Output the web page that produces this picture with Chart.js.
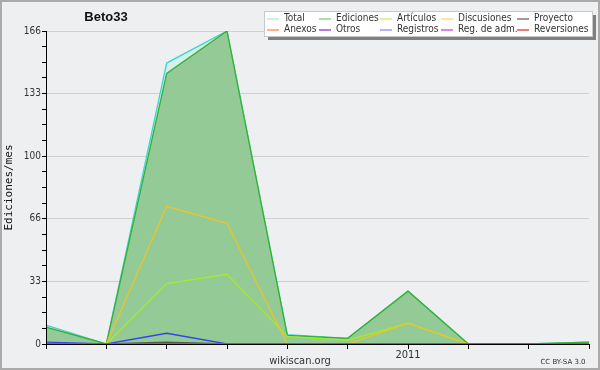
<!DOCTYPE html>
<html>
<head>
<meta charset="utf-8">
<script src="https://cdn.jsdelivr.net/npm/chart.js@4/dist/chart.umd.min.js"></script>
<style>
  html, body { margin: 0; padding: 0; background: #fff; }
  #wrap { width: 600px; height: 370px; }
</style>
</head>
<body>
<div id="wrap"><canvas id="myChart" width="600" height="370"></canvas></div>
<script>
const months = ["2010-07", "2010-08", "2010-09", "2010-10", "2010-11",
	"2010-12", "2011-01", "2011-02", "2011-03", "2011-04"];
const xTickLabels = ["", "", "", "", "", "", "2011", "", "", ""];

const total = [10, 0, 149, 166, 5, 3, 28, 0, 0, 1];
const ediciones = [9, 0, 143.5, 166, 4.5, 3, 28, 0, 0, 1];
const articulos = [0, 0, 32, 37, 4, 2, 11, 0, 0, 0];
const discusiones = [0, 0, 73, 64, 0, 0, 11, 0, 0, 0];
const proyecto = [0, 0, 1, 0, 0, 0, 0, 0, 0, 0];
const anexos = [0, 0, 0, 0, 0, 0, 0, 0, 0, 0];
const otros = [0, 0, 0, 0, 0, 0, 0, 0, 0, 0];
const registros = [1, 0, 5.7, 0, 0, 0, 0, 0, 0, 0];
const regAdm = [0, 0, 0, 0, 0, 0, 0, 0, 0, 0];
const reversiones = [0, 0, 0, 0, 0, 0, 0, 0, 0, 0];

const yTickValues = [];
for (let i = 0; i <= 20; i++) yTickValues.push(i * 8.3);
const yTickLabels = ["0", "33", "66", "100", "133", "166"];

const legendColors = ["#aee8e4", "#7ccc7c", "#ccee66", "#ffd966", "#666666",
	"#ff8844", "#9933cc", "#8888ff", "#cc44dd", "#ee3333"];

function line(label, data, color, order, extra) {
	return Object.assign({
		label: label,
		data: data,
		borderColor: color,
		borderWidth: 1.3,
		pointRadius: 0,
		tension: 0,
		fill: false,
		order: order,
	}, extra || {});
}

const data = {
	labels: months,
	datasets: [
		line("Total", total, "#3dd6cc", 20, { fill: "origin", backgroundColor: "#d4efec" }),
		line("Ediciones", ediciones, "#35b035", 19, { fill: "origin", backgroundColor: "#93ca96" }),
		line("Artículos", articulos, "#a8e82a", 8),
		line("Discusiones", discusiones, "#eec422", 7),
		line("Proyecto", proyecto, "#555555", 6),
		line("Anexos", anexos, "#ff7733", 5),
		line("Otros", otros, "#8833cc", 4),
		line("Registros", registros, "#3344ee", 3),
		line("Reg. de adm.", regAdm, "#cc44dd", 2),
		line("Reversiones", reversiones, "#ee3333", 1),
	],
};

// background, frame, title, legend, footer, axes on top
const decor = {
	id: "decor",
	beforeDraw(chart) {
		const c = chart.ctx;
		c.save();
		c.fillStyle = "#eeeff1";
		c.fillRect(0, 0, 600, 370);
		c.restore();
	},
	afterDatasetsDraw(chart) {
		const c = chart.ctx;
		const a = chart.chartArea;
		c.save();
		c.strokeStyle = "#000";
		c.lineWidth = 1;
		c.beginPath();
		c.moveTo(a.left + 0.5, a.top);
		c.lineTo(a.left + 0.5, a.bottom + 0.5);
		c.lineTo(a.right, a.bottom + 0.5);
		c.stroke();
		c.restore();
	},
	afterDraw(chart) {
		const c = chart.ctx;
		c.save();
		// frame
		c.strokeStyle = "#aaaaaa";
		c.lineWidth = 2;
		c.strokeRect(1, 1, 598, 368);

		// title
		c.fillStyle = "#111";
		c.font = "bold 13px 'Liberation Sans'";
		c.textAlign = "center";
		c.textBaseline = "middle";
		c.fillText("Beto33", 106, 17);

		// legend box with shadow
		c.fillStyle = "#808080";
		c.fillRect(268, 15, 328, 25);
		c.fillStyle = "#ffffff";
		c.fillRect(264, 11, 328, 25);
		c.strokeStyle = "#c8c8c8";
		c.lineWidth = 1;
		c.strokeRect(264.5, 11.5, 328, 25);

		const colX = [267, 319, 380, 441, 517];
		const rowY = [18.5, 29.5];
		c.font = "10px 'DejaVu Sans Condensed', 'Liberation Sans'";
		c.textAlign = "left";
		chart.data.datasets.forEach((ds, i) => {
			const col = i % 5;
			const row = Math.floor(i / 5);
			const x = colX[col];
			const y = rowY[row];
			c.strokeStyle = legendColors[i];
			c.lineWidth = 1.3;
			c.beginPath();
			c.moveTo(x, y + 0.5);
			c.lineTo(x + 12, y + 0.5);
			c.stroke();
			c.fillStyle = "#333";
			c.fillText(ds.label, x + 17, y);
		});

		// footer
		c.fillStyle = "#333";
		c.font = "11px 'DejaVu Sans Condensed', 'Liberation Sans'";
		c.textAlign = "center";
		c.fillText("wikiscan.org", 300, 361);
		c.font = "7px 'DejaVu Sans'";
		c.fillText("CC BY-SA 3.0", 563, 362);
		c.restore();
	},
};

const config = {
	type: "line",
	data,
	options: {
		responsive: false,
		animation: false,
		layout: { padding: { top: 31, right: 11, left: 0, bottom: 0 } },
		plugins: {
			legend: { display: false },
			tooltip: { enabled: false },
		},
		scales: {
			x: {
				offset: false,
				border: { color: "#000" },
				grid: { drawOnChartArea: false, tickColor: "#000", tickLength: 5 },
				ticks: {
					autoSkip: false,
					maxRotation: 0,
					padding: 0,
					color: "#333",
					font: { family: "'DejaVu Sans Condensed', 'Liberation Sans'", size: 11 },
					callback: (v, i) => xTickLabels[i],
				},
				afterFit: (s) => { s.height = 26; },
			},
			y: {
				min: 0,
				max: 166,
				border: { color: "#000" },
				afterBuildTicks: (s) => { s.ticks = yTickValues.map((v) => ({ value: v })); },
				grid: {
					color: (ctx) => (ctx.index > 0 && ctx.index % 4 === 0 ? "#cfcfcf" : "rgba(0,0,0,0)"),
					tickColor: "#000",
					tickLength: 4,
				},
				ticks: {
					autoSkip: false,
					padding: 1,
					color: "#333",
					font: { family: "'DejaVu Sans Condensed', 'Liberation Sans'", size: 10 },
					callback: (v, i) => (i % 4 === 0 ? yTickLabels[i / 4] : ""),
				},
				title: {
					display: true,
					text: "Ediciones/mes",
					color: "#111",
					font: { family: "'DejaVu Sans Mono'", size: 11 },
					padding: { top: 3, bottom: 0 },
				},
				afterFit: (s) => { s.width = 46; },
			},
		},
	},
	plugins: [decor],
};

var myChart = new Chart(document.getElementById("myChart"), config);
</script>
</body>
</html>
